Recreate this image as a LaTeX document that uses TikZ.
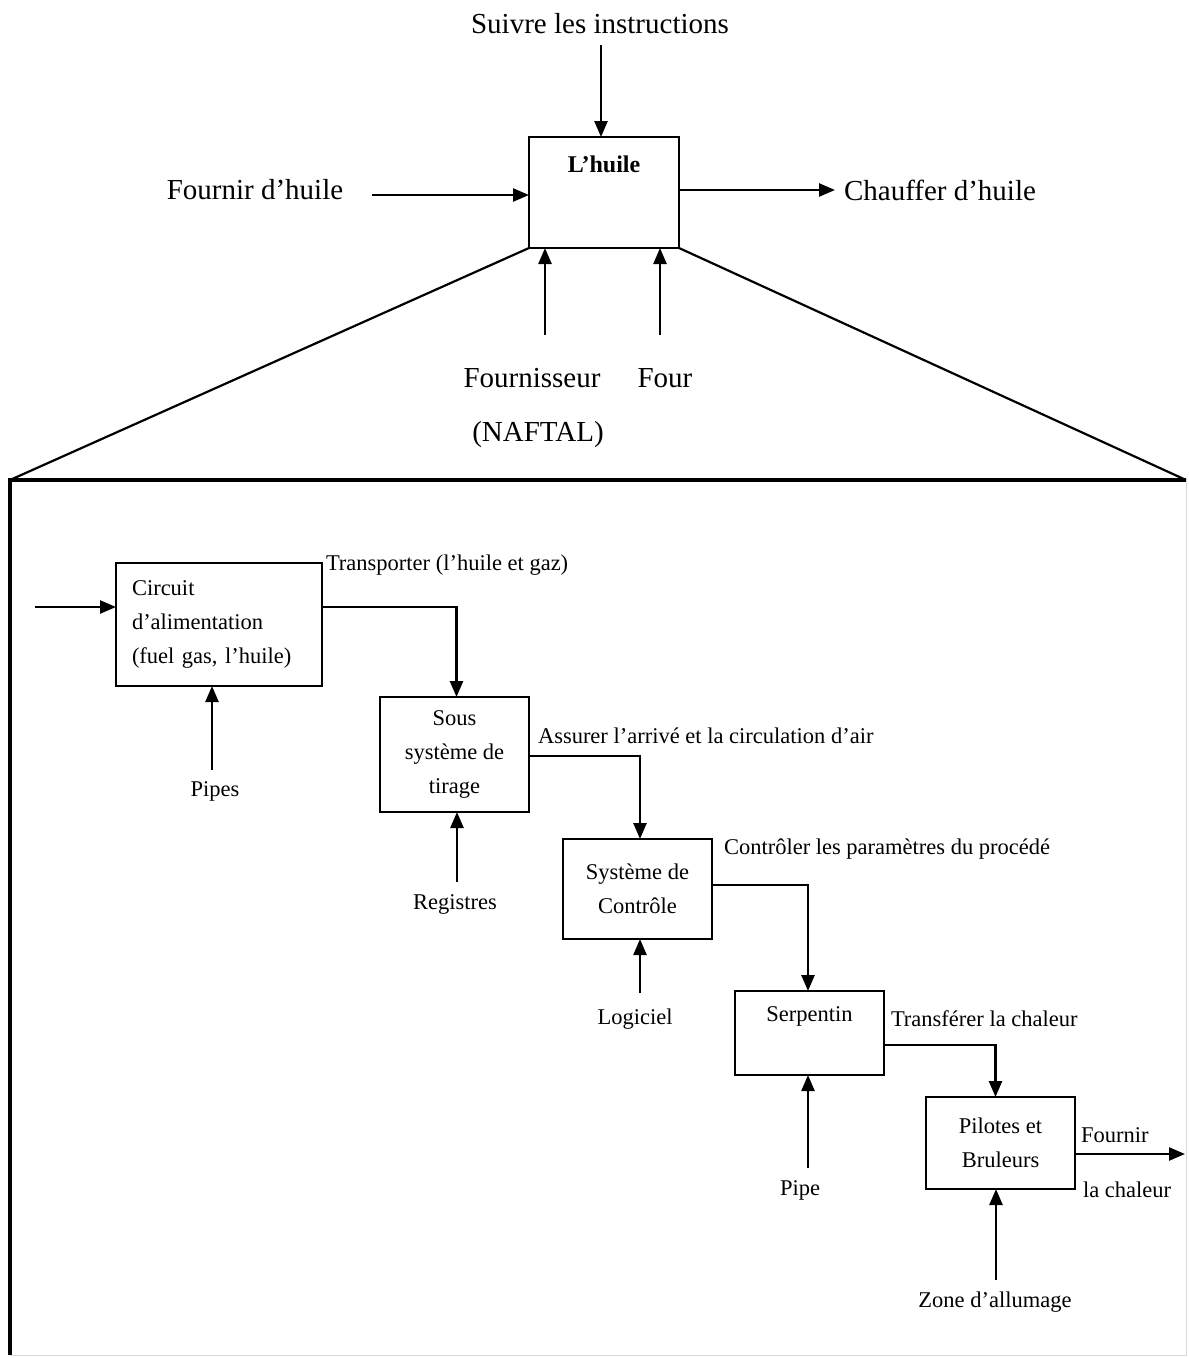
\documentclass[tikz,border=0pt]{standalone}
\usepackage{fontspec}
\setmainfont{Liberation Serif}
\usetikzlibrary{arrows.meta}
\begin{document}
\begin{tikzpicture}[x=1pt,y=-1pt,
  every node/.style={inner sep=0pt, outer sep=0pt},
  bigtxt/.style={font=\fontsize{29}{34}\selectfont},
  smalltxt/.style={font=\fontsize{22.5}{34}\selectfont},
  box/.style={draw, line width=2.8pt, inner sep=0pt, align=center,
    font=\fontsize{22.5}{34}\selectfont},
  flow/.style={line width=2.5pt, line join=miter, -{Triangle[length=16pt,width=13pt]}},
  frame/.style={line width=3.8pt},
  cone/.style={line width=2.2pt}]
\useasboundingbox (0,0) rectangle (1189,1358);

% ---------- top level ----------
\node[box, minimum width=150pt, minimum height=111pt,
  label={[anchor=north, yshift=-19pt, font=\fontsize{24}{28}\selectfont\bfseries]north:L’huile}]
  (oil) at (604,192.5) {};
\node[bigtxt] (suivre) at (600,24) {Suivre les instructions};
\node[bigtxt] (fournir) at (255,190) {Fournir d’huile};
\node[bigtxt] (chauffer) at (940,190) {Chauffer d’huile};
\node[bigtxt] (fournisseur) at (532,378) {Fournisseur};
\node[bigtxt] (four) at (665,378) {Four};
\node[bigtxt] (naftal) at (538,435) {(NAFTAL)};

\coordinate (suivreEnd) at (601,45);
\coordinate (fournirEnd) at (372,195);
\coordinate (chaufferEnd) at (835,190);
\coordinate (fsEnd) at (545,335);
\coordinate (fourEnd) at (660,335);

\draw[flow] (suivreEnd) -- (suivreEnd |- oil.north);
\draw[flow] (fournirEnd) -- (fournirEnd -| oil.west);
\draw[flow] (chaufferEnd -| oil.east) -- (chaufferEnd);
\draw[flow] (fsEnd) -- (fsEnd |- oil.south);
\draw[flow] (fourEnd) -- (fourEnd |- oil.south);

% ---------- expansion frame ----------
\coordinate (fTL) at (10,480);
\coordinate (fTR) at (1186,480);
\coordinate (fBL) at (10,1355);
\coordinate (fBR) at (1186,1355);
\draw[cone] (oil.south west) -- (fTL);
\draw[cone] (oil.south east) -- (fTR);
\draw[black!15, line width=1pt] (fTR) -- (fBR) -- (fBL);
\draw[frame] (fBL) -- (fTL) -- (fTR);

% ---------- decomposition ----------
\node[box, minimum width=206pt, minimum height=123pt, text width=174pt, align=left]
  (circuit) at (219,624.5) {Circuit\\d’alimentation\\(fuel gas, l’huile)};
\node[box, minimum width=149pt, minimum height=115pt]
  (sous) at (454.5,754.5) {Sous\\système de\\tirage};
\node[box, minimum width=149pt, minimum height=100pt]
  (controle) at (637.5,889) {Système de\\Contrôle};
\node[box, minimum width=149pt, minimum height=84pt,
  label={[anchor=north, yshift=-16pt, font=\fontsize{22.5}{34}\selectfont]north:Serpentin}]
  (serpentin) at (809.5,1033) {};
\node[box, minimum width=149pt, minimum height=92pt]
  (pilotes) at (1000.5,1143) {Pilotes et\\Bruleurs};

% mechanism labels
\node[smalltxt] (pipes) at (215,791) {Pipes};
\node[smalltxt] (registres) at (455,904) {Registres};
\node[smalltxt] (logiciel) at (635,1019) {Logiciel};
\node[smalltxt] (pipe) at (800,1190) {Pipe};
\node[smalltxt] (zone) at (995,1302) {Zone d’allumage};

% output labels
\node[smalltxt, anchor=west] (l1) at (326,565) {Transporter (l’huile et gaz)};
\node[smalltxt, anchor=west] (l2) at (538,736) {Assurer l’arrivé et la circulation d’air};
\node[smalltxt, anchor=west] (l3) at (724,849) {Contrôler les paramètres du procédé};
\node[smalltxt, anchor=west] (l4) at (891,1019) {Transférer la chaleur};
\node[smalltxt, anchor=west] (l5) at (1081,1135) {Fournir};
\node[smalltxt, anchor=west] (l6) at (1083,1190) {la chaleur};

% free ends
\coordinate (inStart) at (35,607);
\coordinate (outEnd) at (1185,1154);
\coordinate (pipesEnd) at (212,770);
\coordinate (regEnd) at (457,882);
\coordinate (logEnd) at (640,993);
\coordinate (pipeEnd) at (808,1168);
\coordinate (zoneEnd) at (996,1280);

% flow between activities
\draw[flow] (inStart) -- (inStart -| circuit.west);
\draw[flow] ([yshift=17.5pt]circuit.east) -| ([xshift=2pt]sous.north);
\draw[flow] ([yshift=-1.5pt]sous.east) -| ([xshift=2.5pt]controle.north);
\draw[flow] ([yshift=4pt]controle.east) -| ([xshift=-1.5pt]serpentin.north);
\draw[flow] ([yshift=-12pt]serpentin.east) -| ([xshift=-5pt]pilotes.north);
\draw[flow] (outEnd -| pilotes.east) -- (outEnd);

% mechanisms
\draw[flow] (pipesEnd) -- (pipesEnd |- circuit.south);
\draw[flow] (regEnd) -- (regEnd |- sous.south);
\draw[flow] (logEnd) -- (logEnd |- controle.south);
\draw[flow] (pipeEnd) -- (pipeEnd |- serpentin.south);
\draw[flow] (zoneEnd) -- (zoneEnd |- pilotes.south);
\end{tikzpicture}
\end{document}
